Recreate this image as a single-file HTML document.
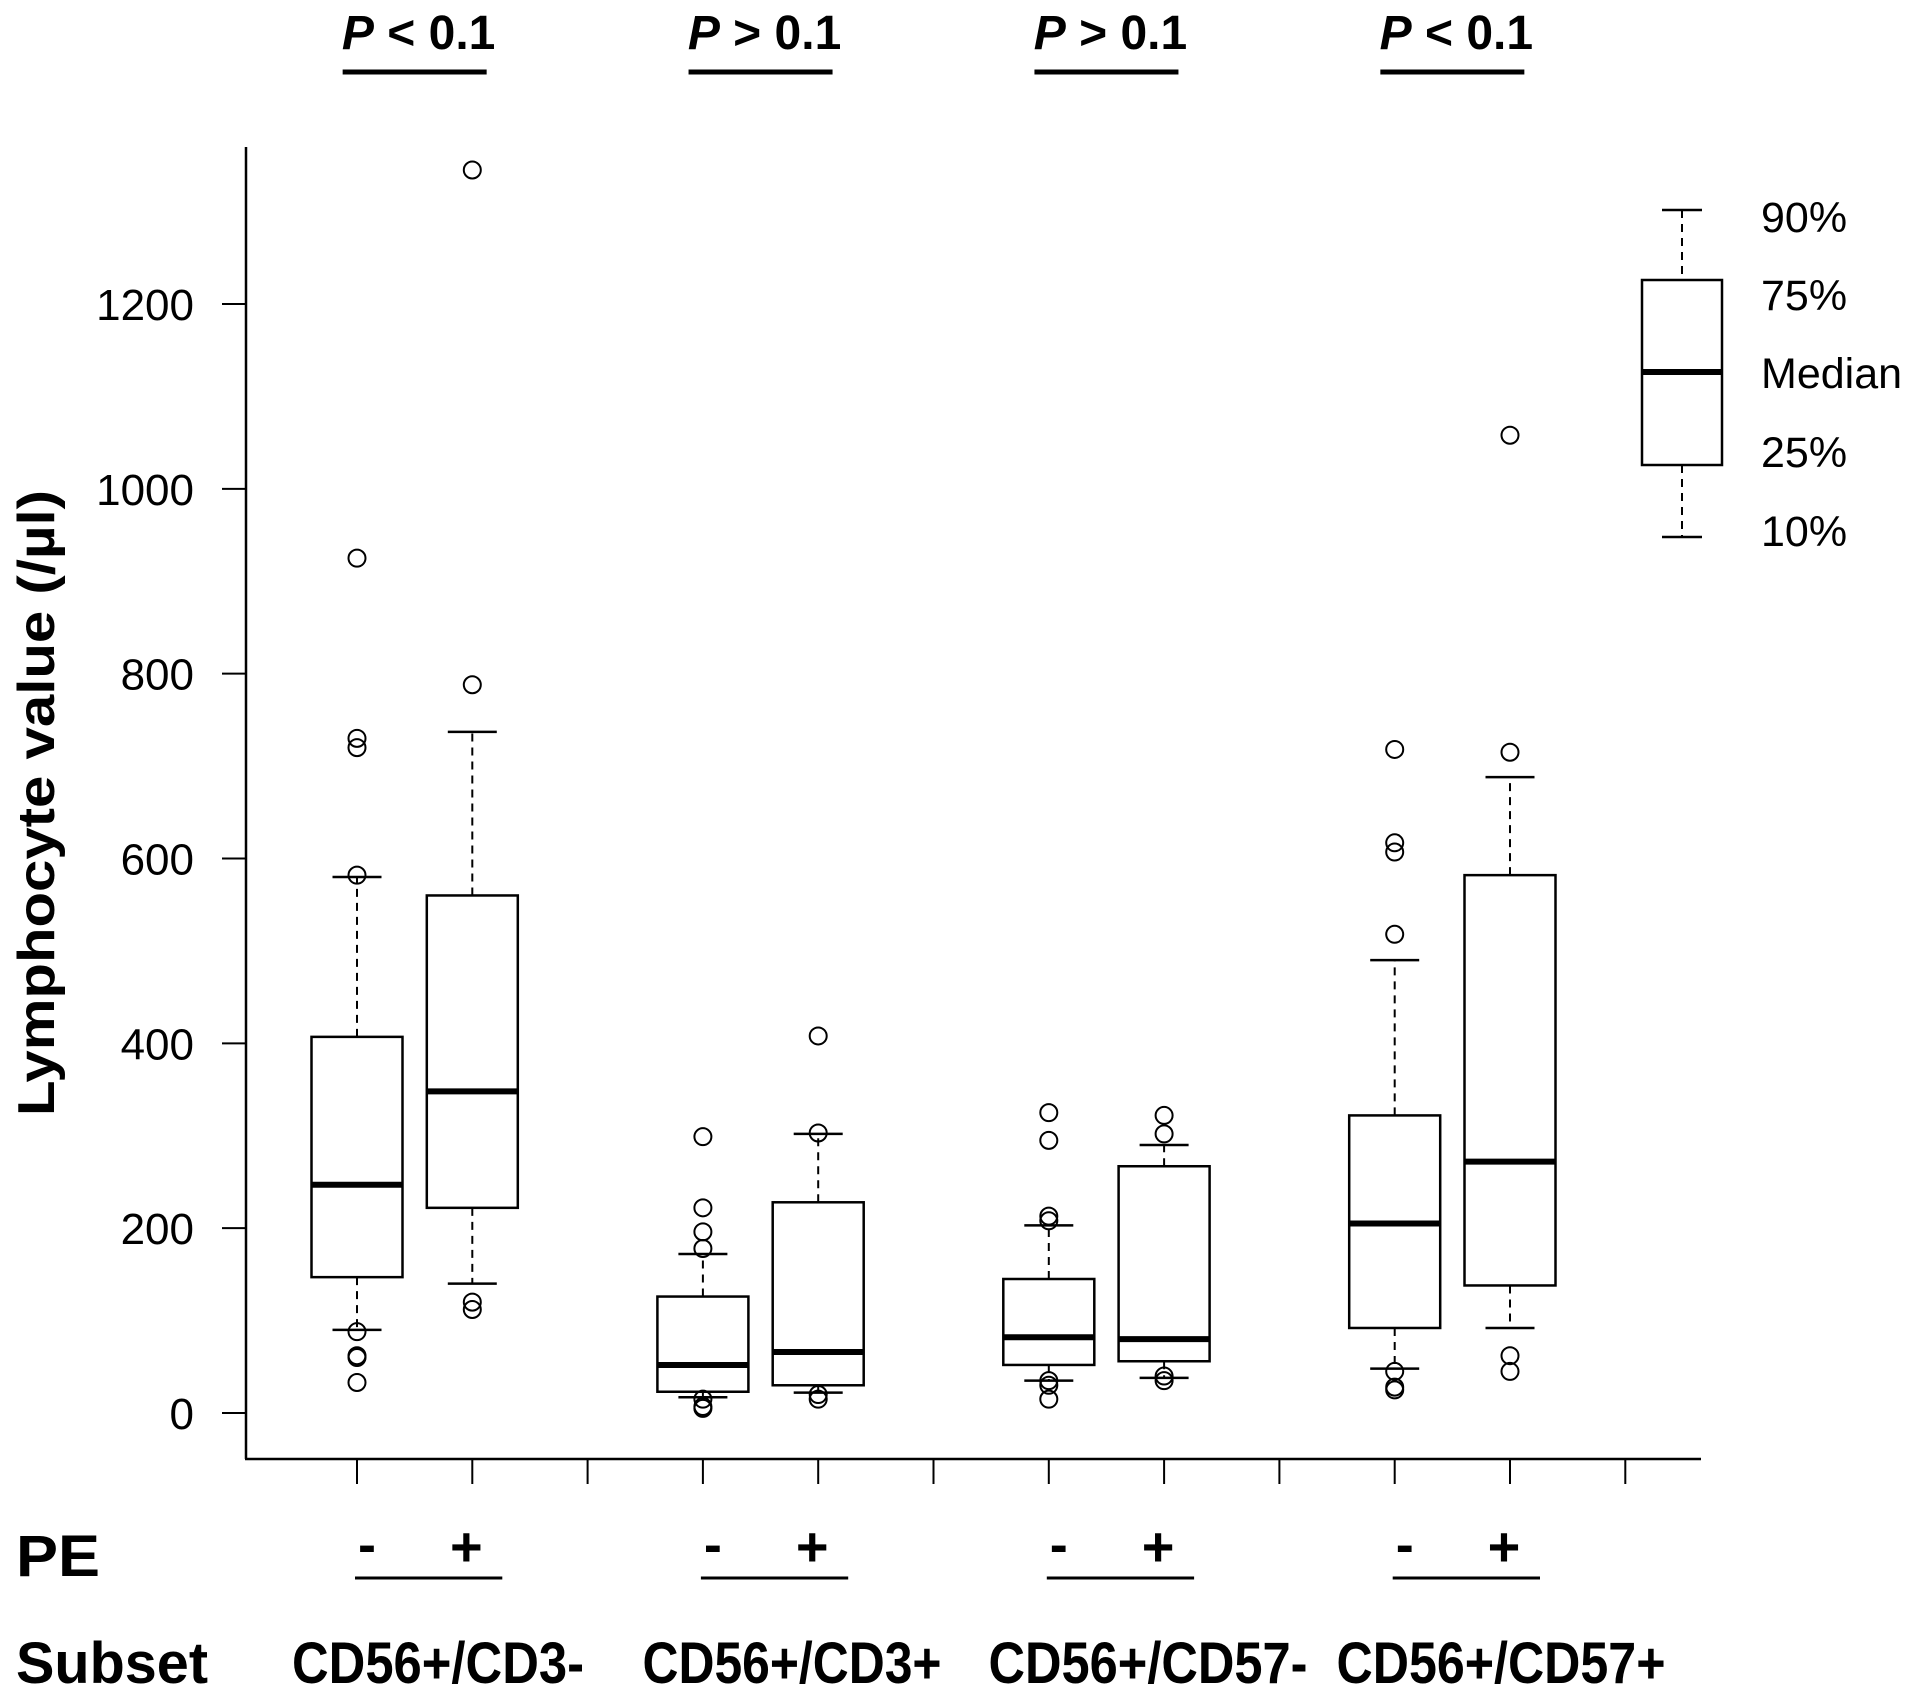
<!DOCTYPE html>
<html><head><meta charset="utf-8"><style>
html,body{margin:0;padding:0;background:#fff}
svg{display:block}
text{font-family:"Liberation Sans",Arial,sans-serif;fill:#000}
</style></head><body>
<svg id="chart" width="1913" height="1688" viewBox="0 0 1913 1688" xmlns="http://www.w3.org/2000/svg">
<g id="axes"></g>
<g id="boxes"></g>
<g id="annot"></g>
</svg>
<script>
const yTicks = [0, 200, 400, 600, 800, 1000, 1200];
const boxPositions = [1, 2, 4, 5, 7, 8, 10, 11];
const q1 = [147, 222, 23, 30, 52, 56, 92, 138];
const medians = [247, 348, 52, 66, 82, 80, 205, 272];
const q3 = [407, 560, 126, 228, 145, 267, 322, 582];
const lowWhisker = [90, 140, 17, 22, 35, 38, 48, 92];
const highWhisker = [580, 737, 172, 302, 203, 290, 490, 688];
const outliers = [
  [925, 730, 720, 582, 88, 62, 60, 33],
  [1345, 788, 120, 112],
  [299, 222, 196, 178, 15, 7, 5],
  [408, 303, 20, 15],
  [325, 295, 213, 208, 35, 30, 15],
  [322, 302, 40, 35],
  [718, 617, 607, 518, 45, 28, 25],
  [1058, 715, 62, 45]
];
const groupLabels = ["CD56+/CD3-", "CD56+/CD3+", "CD56+/CD57-", "CD56+/CD57+"];
const pLabels = ["< 0.1", "> 0.1", "> 0.1", "< 0.1"];

const NS = "http://www.w3.org/2000/svg";
const Y0 = 1413, PER = (1413 - 304) / 1200;
const y = v => Y0 - v * PER;
const x = i => 357 + (i - 1) * 115.3;
function mk(parent, tag, attrs, txt) {
  const e = document.createElementNS(NS, tag);
  for (const k in attrs) e.setAttribute(k, attrs[k]);
  if (txt !== undefined) e.textContent = txt;
  document.getElementById(parent).appendChild(e);
  return e;
}
let e;
e = mk("axes", "line", {x1: 246, y1: 147, x2: 246, y2: 1459, stroke: "#000", "stroke-width": 2.5});


e = mk("axes", "line", {x1: 245, y1: 1459, x2: 1701, y2: 1459, stroke: "#000", "stroke-width": 2.5});


yTicks.forEach(t => {
  e = mk("axes", "line", {x1: 222, y1: y(t), x2: 246, y2: y(t), stroke: "#000", "stroke-width": 2});
  
  
  e = mk("axes", "text", {x: 194, y: y(t) + 16, "text-anchor": "end", "font-size": 44}, String(t));
  
  
});
for (let i = 1; i <= 12; i++) {
  e = mk("axes", "line", {x1: x(i), y1: 1459, x2: x(i), y2: 1484, stroke: "#000", "stroke-width": 2});
  
  
}
e = mk("axes", "text", {x: 0, y: 0, transform: "translate(54,803) rotate(-90)", "text-anchor": "middle", "font-size": 52, "font-weight": "bold", textLength: 626, lengthAdjust: "spacingAndGlyphs"}, "Lymphocyte value (/µl)");



function drawBox(cx, bq1, bmed, bq3, blo, bhi, w, cap, name) {
  e = mk("boxes", "line", {x1: cx, y1: y(bq3), x2: cx, y2: y(bhi), stroke: "#000", "stroke-width": 2, "stroke-dasharray": "8,6"});
  
  
  e = mk("boxes", "line", {x1: cx, y1: y(bq1), x2: cx, y2: y(blo), stroke: "#000", "stroke-width": 2, "stroke-dasharray": "8,6"});
  
  
  e = mk("boxes", "line", {x1: cx - cap / 2, y1: y(bhi), x2: cx + cap / 2, y2: y(bhi), stroke: "#000", "stroke-width": 2.5});
  
  
  e = mk("boxes", "line", {x1: cx - cap / 2, y1: y(blo), x2: cx + cap / 2, y2: y(blo), stroke: "#000", "stroke-width": 2.5});
  
  
  e = mk("boxes", "rect", {x: cx - w / 2, y: y(bq3), width: w, height: y(bq1) - y(bq3), fill: "#fff", stroke: "#000", "stroke-width": 2.5});
  
  
  e = mk("boxes", "line", {x1: cx - w / 2, y1: y(bmed), x2: cx + w / 2, y2: y(bmed), stroke: "#000", "stroke-width": 6});
  
  
}
boxPositions.forEach((p, k) => {
  const cx = x(p);
  drawBox(cx, q1[k], medians[k], q3[k], lowWhisker[k], highWhisker[k], 91, 49, 'box-' + (k + 1));
  outliers[k].forEach(v => {
    e = mk("boxes", "circle", {cx: cx, cy: y(v), r: 8.5, fill: "none", stroke: "#000", "stroke-width": 2});
    
    
  });
});

(function () {
  const cx = 1682;
  e = mk("annot", "line", {x1: cx, y1: 210, x2: cx, y2: 280, stroke: "#000", "stroke-width": 2, "stroke-dasharray": "8,6"});
  
  
  e = mk("annot", "line", {x1: cx, y1: 465, x2: cx, y2: 537, stroke: "#000", "stroke-width": 2, "stroke-dasharray": "8,6"});
  
  
  e = mk("annot", "line", {x1: cx - 20, y1: 210, x2: cx + 20, y2: 210, stroke: "#000", "stroke-width": 2.5});
  
  
  e = mk("annot", "line", {x1: cx - 20, y1: 537, x2: cx + 20, y2: 537, stroke: "#000", "stroke-width": 2.5});
  
  
  e = mk("annot", "rect", {x: cx - 40, y: 280, width: 80, height: 185, fill: "#fff", stroke: "#000", "stroke-width": 2.5});
  
  
  e = mk("annot", "line", {x1: cx - 40, y1: 372, x2: cx + 40, y2: 372, stroke: "#000", "stroke-width": 6});
  
  
  const ly = [217, 295, 373, 452, 531];
  ["90%", "75%", "Median", "25%", "10%"].forEach((t, i) => {
    e = mk("annot", "text", {x: 1761, y: ly[i] + 15, "font-size": 43}, t);
    
    
  });
})();

const subsetCenters = [438, 792, 1148, 1501];
const subsetWidths = [292, 299, 319, 329];
groupLabels.forEach((g, k) => {
  const cx = (x(boxPositions[2 * k]) + x(boxPositions[2 * k + 1])) / 2;
  const t = mk("annot", "text", {x: cx + 4, y: 49, "text-anchor": "middle", "font-size": 48, "font-weight": "bold"});
  
  
  const ts = document.createElementNS(NS, "tspan");
  ts.setAttribute("font-style", "italic");
  ts.textContent = "P";
  t.appendChild(ts);
  t.appendChild(document.createTextNode(" " + pLabels[k]));
  e = mk("annot", "line", {x1: cx - 72, y1: 72, x2: cx + 72, y2: 72, stroke: "#000", "stroke-width": 5});
  
  
  const xa = x(boxPositions[2 * k]), xb = x(boxPositions[2 * k + 1]);
  e = mk("annot", "text", {x: xa + 10, y: 1563, "text-anchor": "middle", "font-size": 54, "font-weight": "bold"}, "-");
  
  
  e = mk("annot", "text", {x: xb - 6, y: 1566, "text-anchor": "middle", "font-size": 56, "font-weight": "bold"}, "+");
  
  
  e = mk("annot", "line", {x1: xa - 2, y1: 1578, x2: xb + 30, y2: 1578, stroke: "#000", "stroke-width": 3});
  
  
  e = mk("annot", "text", {x: subsetCenters[k], y: 1683, "text-anchor": "middle", "font-size": 58, "font-weight": "bold", textLength: subsetWidths[k], lengthAdjust: "spacingAndGlyphs"}, g);
  
  
});
e = mk("annot", "text", {x: 16, y: 1576, "font-size": 58, "font-weight": "bold", textLength: 84, lengthAdjust: "spacingAndGlyphs"}, "PE");


e = mk("annot", "text", {x: 16, y: 1683, "font-size": 58, "font-weight": "bold", textLength: 192, lengthAdjust: "spacingAndGlyphs"}, "Subset");


</script>
</body></html>
